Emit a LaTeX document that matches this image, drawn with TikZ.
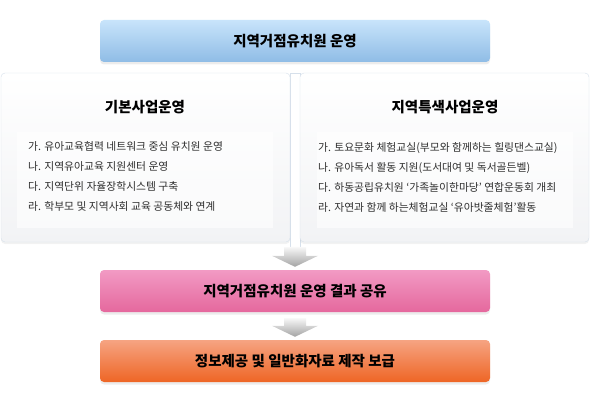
\documentclass[tikz,border=0pt]{standalone}
\usepackage{fontspec}
\setmainfont{Noto Sans CJK KR}
\usetikzlibrary{shadows,calc}
\definecolor{blueT}{HTML}{C8E4FB}
\definecolor{blueB}{HTML}{8FBCE6}
\definecolor{pinkT}{HTML}{F29AC4}
\definecolor{pinkB}{HTML}{E5689D}
\definecolor{orT}{HTML}{F6A482}
\definecolor{orB}{HTML}{EE6525}
\definecolor{edgec}{HTML}{D6E0EB}
\definecolor{txt}{HTML}{2E2E2E}
\definecolor{boxB}{HTML}{F2F3F5}
\begin{document}
\begin{tikzpicture}[x=1pt,y=-1pt,
  bar/.style={rounded corners=4pt, minimum width=390pt, minimum height=42pt, inner sep=0pt,
    drop shadow={shadow xshift=0pt,shadow yshift=-2.5pt,opacity=0.15},
    font=\bfseries\fontsize{14.5}{17}\selectfont, text=black},
  panel/.style={draw=edgec, rounded corners=4pt, top color=white, bottom color=boxB,
    minimum width=289pt, minimum height=169pt, inner sep=0pt,
    drop shadow={shadow xshift=0pt,shadow yshift=-2pt,opacity=0.1}},
  inner/.style={fill=white, fill opacity=0.6, minimum width=256pt, minimum height=96pt, inner sep=0pt},
  ptitle/.style={font=\bfseries\fontsize{14.5}{17}\selectfont, text=black},
  plist/.style={anchor=north west, align=left, inner sep=0pt, text=txt, font=\fontsize{10.8}{20}\selectfont},
  fat/.style={top color=gray!5, bottom color=gray!72, draw=none}]
\useasboundingbox (0,0) rectangle (590,404);
% stem
\draw[edgec, fill=white] (290,73) rectangle (300,250);
% top bar
\node[bar, top color=blueT, bottom color=blueB] (top) at (295,41) {지역거점유치원 운영};
% panels
\node[panel] (lbox) at (145.5,157.5) {};
\node[panel] (rbox) at (444.5,157.5) {};
\node[inner] (linner) at (145,180) {};
\node[inner] (rinner) at (445,180) {};
\node[ptitle] (ltitle) at (145,107) {기본사업운영};
\node[ptitle] (rtitle) at (445,107) {지역특색사업운영};
\node[plist] (llist) at (28,141) {가. 유아교육협력 네트워크 중심 유치원 운영\\나. 지역유아교육 지원센터 운영\\다. 지역단위 자율장학시스템 구축\\라. 학부모 및 지역사회 교육 공동체와 연계};
\node[plist] (rlist) at (318,142) {가. 토요문화 체험교실(부모와 함께하는 힐링댄스교실)\\나. 유아독서 활동 지원(도서대여 및 독서골든벨)\\다. 하동공립유치원 ‘가족놀이한마당’ 연합운동회 개최\\라. 자연과 함께 하는체험교실 ‘유아밧줄체험’활동};
% lower bars
\node[bar, top color=pinkT, bottom color=pinkB] (pink) at (295,291) {지역거점유치원 운영 결과 공유};
\node[bar, top color=orT, bottom color=orB] (orange) at (295,361) {정보제공 및 일반화자료 제작 보급};
% fat arrows
\shade[fat] ($(pink.north)+(-11,-23)$) -- ($(pink.north)+(11,-23)$) -- ($(pink.north)+(11,-14)$)
  -- ($(pink.north)+(23,-14)$) -- ($(pink.north)+(0,-3)$) -- ($(pink.north)+(-23,-14)$)
  -- ($(pink.north)+(-11,-14)$) -- cycle;
\shade[fat] ($(orange.north)+(-11,-22)$) -- ($(orange.north)+(11,-22)$) -- ($(orange.north)+(11,-14)$)
  -- ($(orange.north)+(23,-14)$) -- ($(orange.north)+(0,-3)$) -- ($(orange.north)+(-23,-14)$)
  -- ($(orange.north)+(-11,-14)$) -- cycle;
\end{tikzpicture}
\end{document}
